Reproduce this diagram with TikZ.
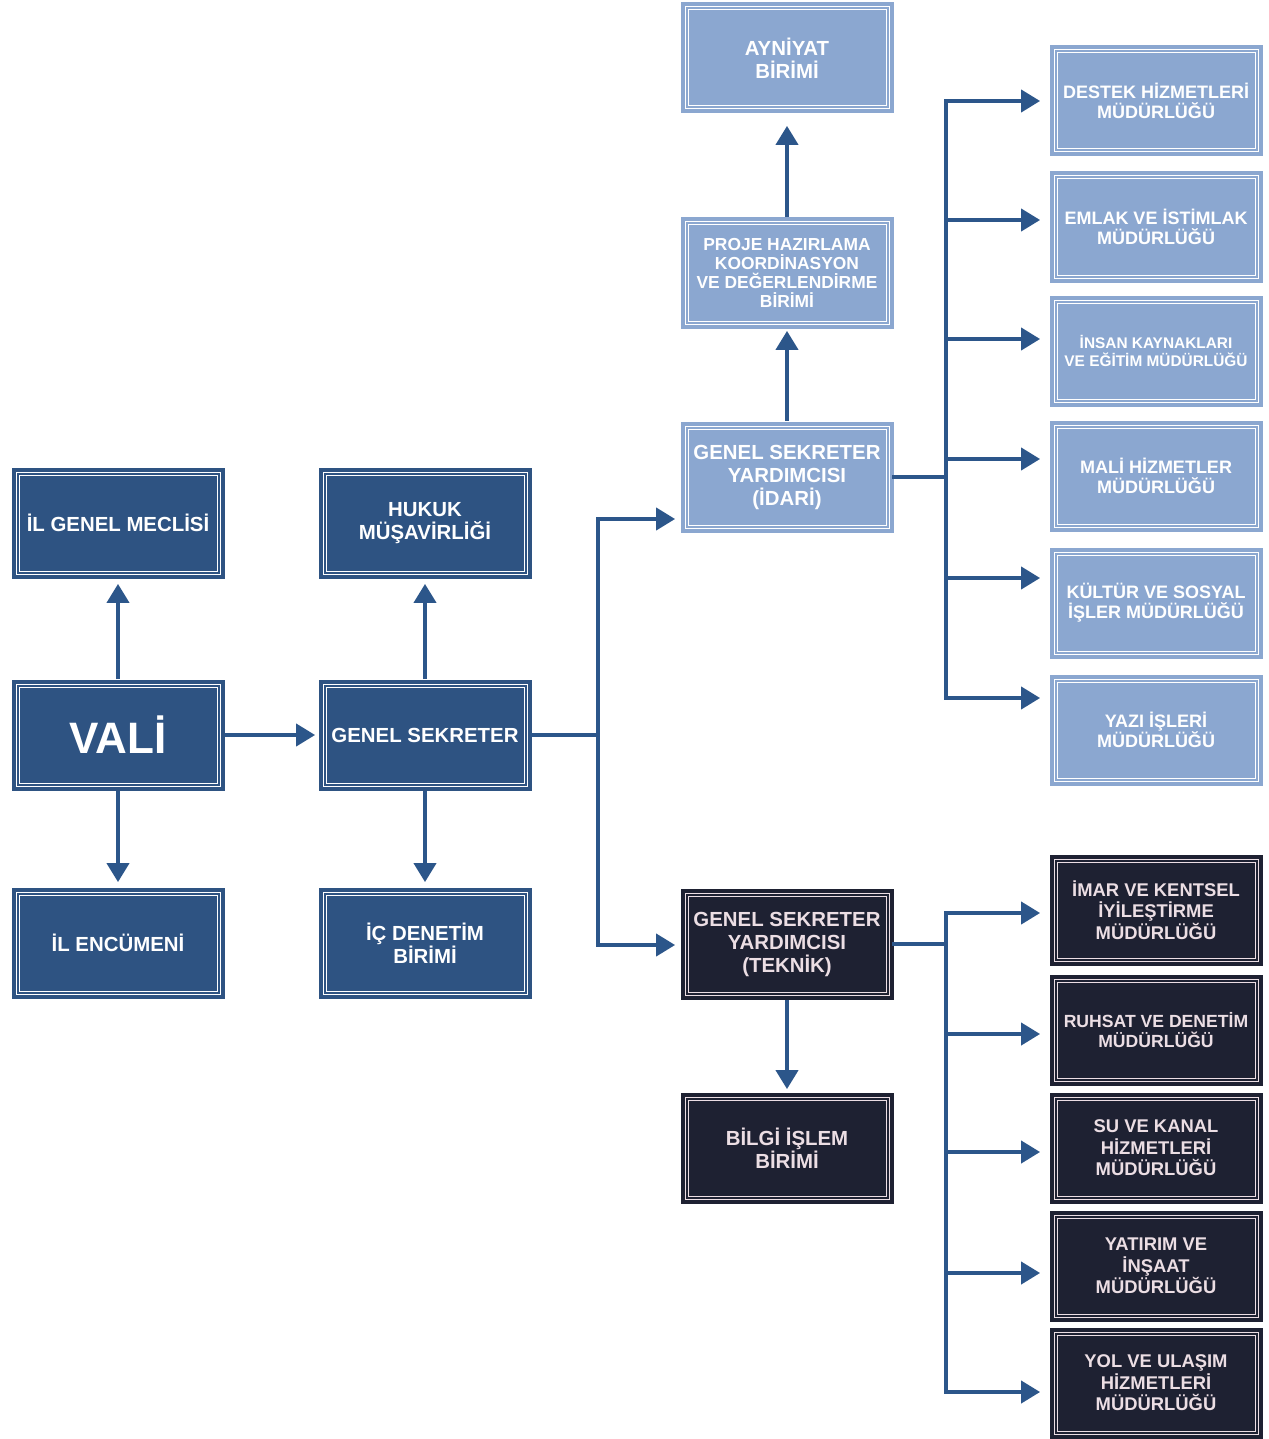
\documentclass[tikz,border=0pt]{standalone}
\usepackage{fontspec}
\setmainfont{Liberation Sans}
\usetikzlibrary{arrows.meta}

\definecolor{valiblue}{RGB}{46,83,130}
\definecolor{idariblue}{RGB}{139,167,208}
\definecolor{teknikdark}{RGB}{30,33,50}
\definecolor{arrowblue}{RGB}{44,86,138}
\definecolor{pinkline}{RGB}{236,222,228}

\begin{document}
\begin{tikzpicture}[x=0.5pt,y=-0.5pt,
	every node/.style={align=center},
	unit/.style 2 args={rectangle, fill=#1, minimum width=106.5pt, minimum height=55.5pt, inner sep=0pt, text=#2,
		font=\bfseries\fontsize{10.2}{11.5}\selectfont,
		path picture={\draw[draw=#2, line width=0.5pt, double=#1, double distance=1pt]
			([shift={(3pt,3pt)}]path picture bounding box.south west) rectangle ([shift={(-3pt,-3pt)}]path picture bounding box.north east);}},
	valibox/.style={unit={valiblue}{white}},
	idaribox/.style={unit={idariblue}{white}},
	teknikbox/.style={unit={teknikdark}{pinkline}, font=\bfseries\fontsize{9.2}{10.7}\selectfont},
	smalltext/.style={font=\bfseries\fontsize{9}{10}\selectfont},
	arr/.style={draw=arrowblue, line width=2pt, -{Triangle[length=9.5pt,width=11pt]}, shorten >=2.5pt},
	bus/.style={draw=arrowblue, line width=2pt, line cap=rect}]
	\useasboundingbox (0,0) rectangle (1268,1439);
	% left part
	\node[valibox] (meclis) at (118,523) {İL GENEL MECLİSİ};
	\node[valibox, font=\bfseries\fontsize{22}{24}\selectfont] (vali) at (118,735) {VALİ};
	\node[valibox] (encumen) at (118,943) {İL ENCÜMENİ};
	\node[valibox] (hukuk) at (425,523) {HUKUK \\ MÜŞAVİRLİĞİ};
	\node[valibox] (gensek) at (425,735) {GENEL SEKRETER};
	\node[valibox] (icdenetim) at (425,943) {İÇ DENETİM \\ BİRİMİ};
	% middle column
	\node[idaribox] (ayniyat) at (787,58) {AYNİYAT \\ BİRİMİ};
	\node[idaribox, font=\bfseries\fontsize{8.7}{9.6}\selectfont] (proje) at (787,273) {PROJE HAZIRLAMA \\ KOORDİNASYON \\ VE DEĞERLENDİRME \\ BİRİMİ};
	\node[idaribox] (idari) at (787,477) {GENEL SEKRETER \\ YARDIMCISI \\ (İDARİ)};
	\node[teknikbox, font=\bfseries\fontsize{10.2}{11.5}\selectfont] (teknik) at (787,944) {GENEL SEKRETER \\ YARDIMCISI \\ (TEKNİK)};
	\node[teknikbox, font=\bfseries\fontsize{10.2}{11.5}\selectfont] (bilgi) at (787,1148) {BİLGİ İŞLEM \\ BİRİMİ};
	% right column, idari
	\node[idaribox, smalltext] (destek) at (1156,101) {DESTEK HİZMETLERİ \\ MÜDÜRLÜĞÜ};
	\node[idaribox, smalltext] (emlak) at (1156,227) {EMLAK VE İSTİMLAK \\ MÜDÜRLÜĞÜ};
	\node[idaribox, font=\bfseries\fontsize{7.7}{9}\selectfont] (insan) at (1156,351) {İNSAN KAYNAKLARI \\ VE EĞİTİM MÜDÜRLÜĞÜ};
	\node[idaribox, smalltext] (mali) at (1156,476) {MALİ HİZMETLER \\ MÜDÜRLÜĞÜ};
	\node[idaribox, smalltext] (kultur) at (1156,603) {KÜLTÜR VE SOSYAL \\ İŞLER MÜDÜRLÜĞÜ};
	\node[idaribox, smalltext] (yazi) at (1156,730) {YAZI İŞLERİ \\ MÜDÜRLÜĞÜ};
	% right column, teknik
	\node[teknikbox] (imar) at (1156,910) {İMAR VE KENTSEL \\ İYİLEŞTİRME \\ MÜDÜRLÜĞÜ};
	\node[teknikbox, font=\bfseries\fontsize{8.8}{10.4}\selectfont] (ruhsat) at (1156,1030) {RUHSAT VE DENETİM \\ MÜDÜRLÜĞÜ};
	\node[teknikbox] (su) at (1156,1148) {SU VE KANAL \\ HİZMETLERİ \\ MÜDÜRLÜĞÜ};
	\node[teknikbox] (yatirim) at (1156,1266) {YATIRIM VE \\ İNŞAAT \\ MÜDÜRLÜĞÜ};
	\node[teknikbox] (yol) at (1156,1383) {YOL VE ULAŞIM \\ HİZMETLERİ \\ MÜDÜRLÜĞÜ};

	% connectors
	\draw[arr] (vali) -- (meclis);
	\draw[arr] (vali) -- (encumen);
	\draw[arr, shorten >=1.5pt] (vali) -- (gensek);
	\draw[arr] (gensek) -- (hukuk);
	\draw[arr] (gensek) -- (icdenetim);
	\draw[arr, shorten >=6pt] (proje) -- (ayniyat);
	\draw[arr, shorten >=1pt] (idari) -- (proje);
	\draw[arr, shorten >=1.5pt] (teknik) -- (bilgi);

	\coordinate (busA) at (598,735);
	\coordinate (lvIdari) at (598,519);
	\coordinate (lvTeknik) at (598,945);
	\draw[bus] (gensek.east) -- (busA);
	\draw[bus] (lvIdari) -- (lvTeknik);
	\draw[arr] (lvIdari) -- (lvIdari -| idari.west);
	\draw[arr] (lvTeknik) -- (lvTeknik -| teknik.west);

	\coordinate (busB) at (946,477);
	\draw[bus] (idari.east) -- (busB);
	\draw[bus] (946,101) -- (946,698);
	\foreach \n/\y in {destek/101, emlak/220, insan/339, mali/459, kultur/578, yazi/698} {
		\coordinate (tap) at (946,\y);
		\draw[arr, shorten >=4.5pt] (tap) -- (tap -| \n.west);
	} % <- End idari taps

	\coordinate (busC) at (946,944);
	\draw[bus] (teknik.east) -- (busC);
	\draw[bus] (946,913) -- (946,1392);
	\foreach \n/\y in {imar/913, ruhsat/1034, su/1152, yatirim/1273, yol/1392} {
		\coordinate (tap) at (946,\y);
		\draw[arr, shorten >=4.5pt] (tap) -- (tap -| \n.west);
	} % <- End teknik taps
\end{tikzpicture}
\end{document}
